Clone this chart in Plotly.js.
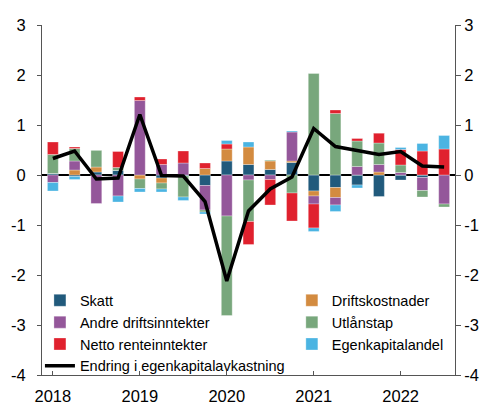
<!DOCTYPE html>
<html>
<head>
<meta charset="utf-8">
<script src="https://cdn.plot.ly/plotly-3.0.1.min.js"></script>
<style>html,body{margin:0;padding:0;background:#fff;}#chart{width:485px;height:406px;}</style>
</head>
<body>
<div id="chart"></div>
<script>
const quarters = ['2018Q1','2018Q2','2018Q3','2018Q4','2019Q1','2019Q2','2019Q3','2019Q4','2020Q1','2020Q2','2020Q3','2020Q4','2021Q1','2021Q2','2021Q3','2021Q4','2022Q1','2022Q2','2022Q3'];
const tickQuarters = ['2018Q1','2019Q1','2020Q1','2021Q1','2022Q1'];
const tickLabels = ['2018','2019','2020','2021','2022'];
const yTickVals = [-4,-3,-2,-1,0,1,2,3];
const yTickText = ['-4','-3','-2','-1','0','1','2','3'];

const skatt   = [0.03,-0.03,0.06,0.09,0,-0.06,-0.02,-0.21,0.28,0.21,0.11,0.25,-0.32,-0.25,-0.20,-0.43,-0.10,-0.05,0];
const drifts  = [0,0.10,0.10,0,-0.08,-0.10,0,0.13,0.24,0.35,0.17,0.03,-0.10,-0.20,0,0.06,0,0,0];
const andre   = [-0.15,0.18,-0.57,-0.42,1.49,0.21,0.24,-0.49,-0.82,-0.10,-0.09,0.58,-0.16,-0.15,0.17,0.15,0.05,-0.26,-0.58];
const utlan   = [0.38,0.25,0.34,0.06,-0.19,-0.12,-0.42,-0.04,-1.99,-0.83,0.02,-0.36,2.03,1.23,0.51,0.43,0.15,-0.13,-0.06];
const netto   = [0.25,0.03,0,0.32,0.07,0.11,0.24,0.11,0.10,-0.46,-0.51,-0.56,-0.48,0.07,0.05,0.20,0.31,0.48,0.52];
const egen    = [-0.17,-0.06,0,-0.12,-0.07,-0.06,-0.07,-0.04,0.07,0.10,0,0.02,-0.07,-0.13,-0.06,0,0.04,0.15,0.27];
const endring = [0.33,0.48,-0.08,-0.06,1.21,-0.01,-0.02,-0.53,-2.12,-0.72,-0.28,-0.04,0.93,0.57,0.49,0.41,0.47,0.18,0.16];

function bar(name, y, color, legend) {
  return {type:'bar', x:quarters, y:y, name:name, legend:legend,
    marker:{color:color, line:{color:'rgba(255,255,255,0.6)', width:0.5}}, width:0.5};
}
const traces = [
  bar('Skatt', skatt, '#215a7c', 'legend'),
  bar('Driftskostnader', drifts, '#d38b40', 'legend2'),
  bar('Andre driftsinntekter', andre, '#94579a', 'legend'),
  bar('Utlånstap', utlan, '#78a77c', 'legend2'),
  bar('Netto renteinntekter', netto, '#e0212e', 'legend'),
  bar('Egenkapitalandel', egen, '#4bb4e2', 'legend2'),
  {type:'scatter', mode:'lines', x:quarters, y:endring, name:'Endring i egenkapitalavkastning',
   legend:'legend', line:{color:'#000', width:3.5}},
  {type:'scatter', mode:'lines', x:quarters, y:endring, yaxis:'y2', showlegend:false,
   hoverinfo:'skip', line:{color:'rgba(0,0,0,0)', width:0}}
];

const fam = 'Liberation Sans, Arial, sans-serif';
const tickFont = {family:fam, size:16.5, color:'#000'};
const legFont = {family:fam, size:14.5, color:'#000'};
const layout = {
  width:485, height:406,
  margin:{l:42, r:30, t:25, b:31},
  barmode:'relative',
  paper_bgcolor:'#fff', plot_bgcolor:'#fff',
  font:tickFont,
  xaxis:{type:'category', range:[-0.5,18.5], tickvals:tickQuarters, ticktext:tickLabels,
    ticks:'inside', ticklen:4, tickcolor:'#555', showline:true, linecolor:'#555', linewidth:1,
    showgrid:false, zeroline:false, ticklabelstandoff:6, tickfont:tickFont},
  yaxis:{range:[-4,3], tickvals:yTickVals, ticktext:yTickText, ticks:'outside', ticklen:4, tickcolor:'#555',
    showline:true, linecolor:'#555', linewidth:1, showgrid:false, ticklabelstandoff:8,
    zeroline:true, zerolinecolor:'#000', zerolinewidth:1.2, tickfont:tickFont},
  yaxis2:{range:[-4,3], tickvals:yTickVals, ticktext:yTickText, overlaying:'y', side:'right', matches:'y',
    ticks:'outside', ticklen:5, tickcolor:'#555', showline:true, linecolor:'#555',
    linewidth:1, showgrid:false, zeroline:false, tickfont:tickFont},
  legend:{x:-0.005, xanchor:'left', y:0.259, yanchor:'top', bgcolor:'rgba(0,0,0,0)',
    font:legFont, traceorder:'normal', tracegroupgap:0, itemwidth:30},
  legend2:{x:0.605, xanchor:'left', y:0.259, yanchor:'top', bgcolor:'rgba(0,0,0,0)',
    font:legFont, traceorder:'normal', tracegroupgap:0, itemwidth:30},
  showlegend:true
};
Plotly.newPlot('chart', traces, layout, {displayModeBar:false, staticPlot:true});
</script>
</body>
</html>
